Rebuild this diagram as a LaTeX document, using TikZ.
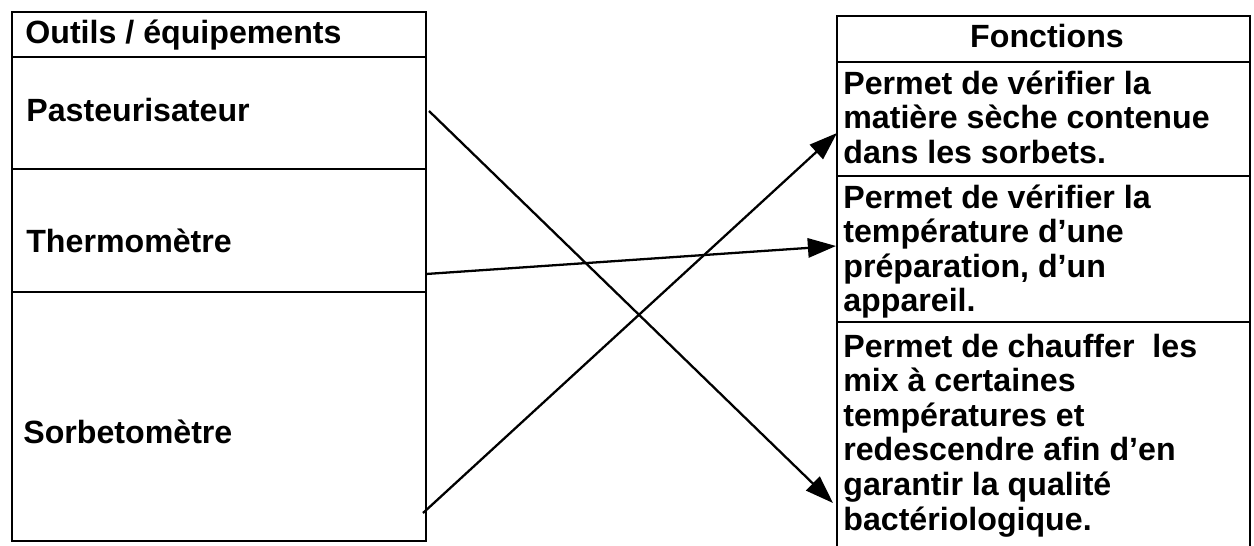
\documentclass[tikz,border=0pt]{standalone}
\usepackage{fontspec}
\setmainfont{Liberation Sans}
\usetikzlibrary{arrows.meta}
\tikzset{
  grid/.style={line width=0.9pt, black},
  link/.style={line width=1.3pt, black, -{Triangle[length=16pt,width=11pt]}},
  celltext/.style={anchor=base west, inner sep=0pt, font=\fontsize{18.3}{19.7}\selectfont\bfseries},
  headtext/.style={anchor=base, inner sep=0pt, font=\fontsize{18.3}{19.7}\selectfont\bfseries}
}
\newcommand{\celllines}[1]{\parbox[t]{12cm}{\raggedright #1}}
\begin{document}
\begin{tikzpicture}[x=0.02cm,y=-0.02cm]
\useasboundingbox (0,0) rectangle (1254,545);
% left table
\draw[grid] (12,12) rectangle (426,541);
\draw[grid] (12,57) -- (426,57);
\draw[grid] (12,169) -- (426,169);
\draw[grid] (12,292) -- (426,292);
% right table (bottom edge outside picture)
\draw[grid] (837,560) -- (837,16) -- (1250,16) -- (1250,560);
\draw[grid] (837,62) -- (1250,62);
\draw[grid] (837,176) -- (1250,176);
\draw[grid] (837,322) -- (1250,322);
% texts
\node[celltext] (hl) at (25,43) {Outils / équipements};
\node[celltext] (past) at (26,121) {Pasteurisateur};
\node[celltext] (therm) at (26,252) {Thermomètre};
\node[celltext] (sorb) at (23,443) {Sorbetomètre};
\node[headtext] (hr) at (1047,47) {Fonctions};
\node[celltext] (f1) at (843,94) {\celllines{Permet de vérifier la\\matière sèche contenue\\dans les sorbets.}};
\node[celltext] (f2) at (843,208) {\celllines{Permet de vérifier la\\température d’une\\préparation, d’un\\appareil.}};
\node[celltext] (f3) at (843,357) {\celllines{Permet de chauffer\ \ les\\mix à certaines\\températures et\\redescendre afin d’en\\garantir la qualité\\bactériologique.}};
% connector end points
\coordinate (pS) at (429,111);
\coordinate (pE) at (833,503);
\coordinate (tS) at (426,274);
\coordinate (tE) at (836,246);
\coordinate (sS) at (423,513);
\coordinate (sE) at (837,133);
\draw[link] (pS) -- (pE);
\draw[link] (tS) -- (tE);
\draw[link] (sS) -- (sE);
\end{tikzpicture}
\end{document}
